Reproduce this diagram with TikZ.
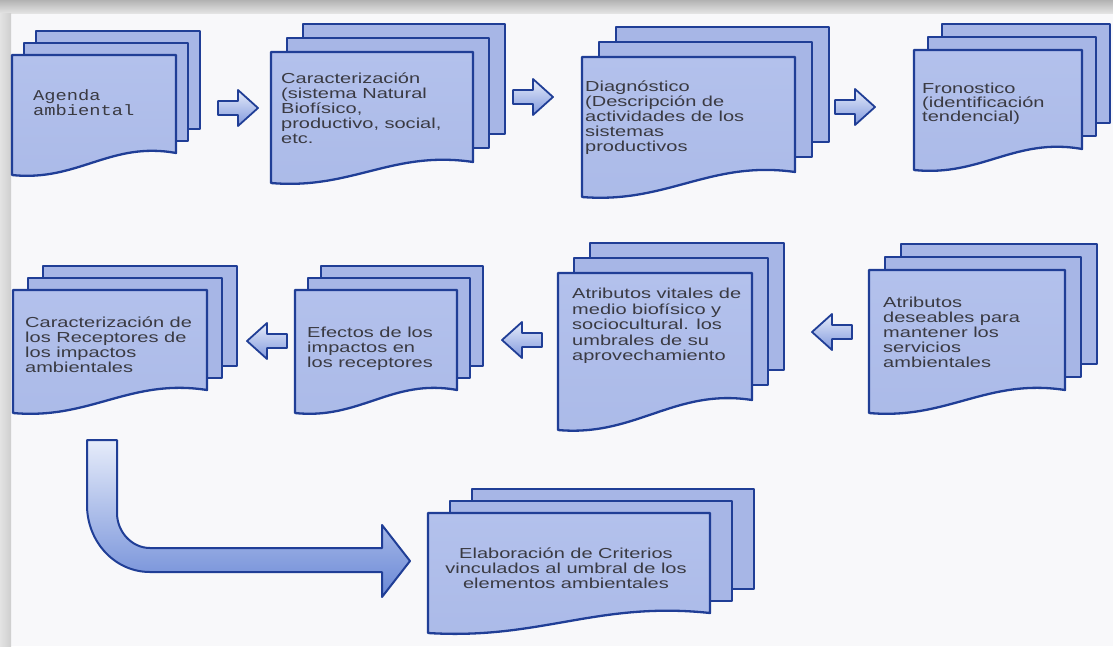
\documentclass[tikz,border=0pt]{standalone}
\usepackage{fontspec}
\setmainfont{Liberation Sans}
\newfontfamily\boxfont{Liberation Sans}[FakeStretch=1.38]
\newfontfamily\agendafont{Liberation Mono}[FakeStretch=1.25]
\usetikzlibrary{calc}
\definecolor{edge}{HTML}{203E96}
\definecolor{sheet}{HTML}{A7B6E6}
\definecolor{ftop}{HTML}{B3C1EC}
\definecolor{fmid}{HTML}{C9D3F3}
\definecolor{fbot}{HTML}{ABBAE8}
\definecolor{ink}{HTML}{3A3A42}
\definecolor{paper}{HTML}{F8F8FA}
\definecolor{alight}{HTML}{E6ECFA}
\definecolor{adark}{HTML}{8098DD}
\definecolor{bigdark}{HTML}{6A88D6}
\tikzset{
  sheetbox/.style={draw=edge, line width=2.3pt, fill=sheet, line join=round},
  frontbox/.style={draw=edge, line width=2.3pt, top color=ftop, middle color=fmid, bottom color=fbot, line join=round},
  txt/.style={text=ink, font=\boxfont\fontsize{14.5}{15}\selectfont, align=left, inner sep=0pt, anchor=north west},
  blockarrow/.style={draw=edge, line width=1.8pt, top color=alight, bottom color=adark, line join=round},
  bigarrow/.style={draw=edge, line width=2pt, top color=alight, bottom color=bigdark, line join=round},
}
% name, xl, yt, xr, yb, wave depth, dx, dy
\newcommand{\docstack}[8]{%
  \draw[sheetbox] ({#2+2*#7},{#3-2*#8}) rectangle ({#4+2*#7},{#5-2*#8});
  \draw[sheetbox] ({#2+#7},{#3-#8}) rectangle ({#4+#7},{#5-#8});
  \draw[frontbox] (#2,#3) -- (#4,#3) -- (#4,#5)
    .. controls ({#4-0.4*(#4-#2)},{#5-12}) and ({#2+0.4*(#4-#2)},{#5+#6+7}) .. (#2,{#5+#6}) -- cycle;
  \coordinate (#1) at ({(#2+#4)/2},{(#3+#5)/2});
}
% name, cx, cy, direction (1 right, -1 left)
\newcommand{\barrow}[4]{%
  \begin{scope}[shift={(#2,#3)}, xscale=#4]
    \draw[blockarrow] (-20,-7) -- (0,-7) -- (0,-18) -- (20,0) -- (0,18) -- (0,7) -- (-20,7) -- cycle;
  \end{scope}
  \coordinate (#1) at (#2,#3);
}
\begin{document}
\begin{tikzpicture}[x=1pt,y=-1pt]
\useasboundingbox (0,0) rectangle (1113,646);
\fill[paper] (0,0) rectangle (1113,646);
\fill[top color=gray!60, bottom color=gray!22] (0,0) rectangle (1113,13);
\fill[left color=gray!22, right color=gray!38] (0,13) rectangle (11,646);

% stacks
\docstack{s1}{12}{55}{176}{153}{22}{12}{12}
\docstack{s2}{271}{52}{473}{162}{21}{16}{14}
\docstack{s3}{582}{57}{795}{172}{25}{17}{15}
\docstack{s4}{914}{50}{1082}{149}{21}{14}{13}
\docstack{s5}{13}{290}{207}{390}{23}{15}{12}
\docstack{s6}{295}{290}{457}{390}{23}{13}{12}
\docstack{s7}{558}{273}{752}{400}{30}{16}{15}
\docstack{s8}{869}{270}{1065}{390}{23}{16}{13}
\docstack{s9}{428}{513}{710}{613}{20}{22}{12}

% texts
\node[txt, font=\agendafont\fontsize{15}{15}\selectfont] (t1) at (33,89) {Agenda\\ambiental};
\node[txt] (t2) at (281,73) {Caracterización\\(sistema Natural\\Biofísico,\\productivo, social,\\etc.};
\node[txt] (t3) at (585,81) {Diagnóstico\\(Descripción de\\actividades de los\\sistemas\\productivos};
\node[txt, font=\boxfont\fontsize{14.5}{13.5}\selectfont] (t4) at (922,83) {Fronostico\\(identificación\\tendencial)};
\node[txt] (t5) at (25,317) {Caracterización de\\los Receptores de\\los impactos\\ambientales};
\node[txt] (t6) at (307,327) {Efectos de los\\impactos en\\los receptores};
\node[txt, font=\boxfont\fontsize{14.5}{15.5}\selectfont] (t7) at (572,288) {Atributos vitales de\\medio biofísico y\\sociocultural. los\\umbrales de su\\aprovechamiento};
\node[txt] (t8) at (883,297) {Atributos\\deseables para\\mantener los\\servicios\\ambientales};
\node[txt, align=center, anchor=north] (t9) at (566,548) {Elaboración de Criterios\\vinculados al umbral de los\\elementos ambientales};

% block arrows
\barrow{a12}{238}{108}{1}
\barrow{a23}{533}{97}{1}
\barrow{a34}{855}{107}{1}
\barrow{a87}{832}{332}{-1}
\barrow{a76}{522}{340}{-1}
\barrow{a65}{267}{341}{-1}

% big bent arrow
\draw[bigarrow] (87,440) -- (117,440) -- (117,513)
  .. controls (117,532) and (132,548) .. (150,548) -- (382,548) -- (382,525) -- (410,561)
  -- (382,597) -- (382,572) -- (150,572)
  .. controls (115,572) and (87,542) .. (87,505) -- cycle;
\end{tikzpicture}
\end{document}
